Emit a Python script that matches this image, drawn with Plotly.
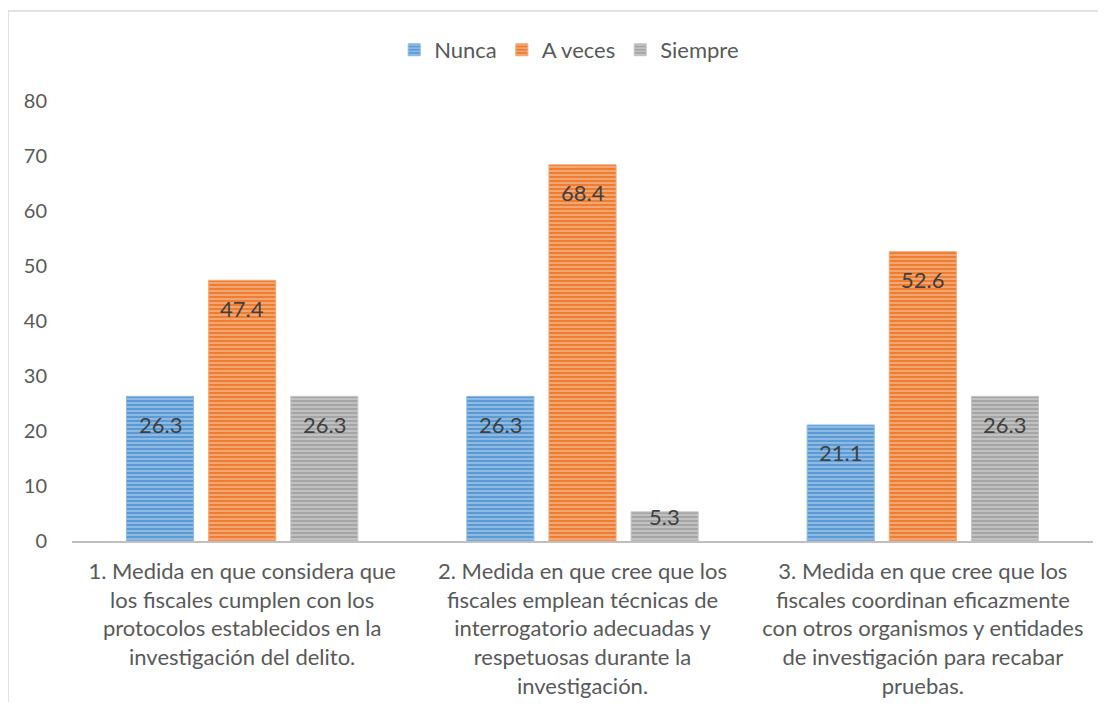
import plotly.graph_objects as go

categories = [
    "1. Medida en que considera que<br>los fiscales cumplen con los<br>protocolos establecidos en la<br>investigación del delito.",
    "2. Medida en que cree que los<br>fiscales emplean técnicas de<br>interrogatorio adecuadas y<br>respetuosas durante la<br>investigación.",
    "3. Medida en que cree que los<br>fiscales coordinan eficazmente<br>con otros organismos y entidades<br>de investigación para recabar<br>pruebas.",
]
series_names = ["Nunca", "A veces", "Siempre"]
nunca = [26.3, 26.3, 21.1]
a_veces = [47.4, 68.4, 52.6]
siempre = [26.3, 5.3, 26.3]
y_ticks = [0, 10, 20, 30, 40, 50, 60, 70, 80]

series_values = [nunca, a_veces, siempre]
colors = ["#5B9BD5", "#ED7D31", "#A5A5A5"]
line_colors = ["#8DB9E4", "#F4A877", "#C6C6C6"]

FONT = "Lato"
fig = go.Figure()
for name, vals, c, lc in zip(series_names, series_values, colors, line_colors):
    fig.add_trace(go.Bar(
        name=name, x=categories, y=vals,
        marker=dict(
            color=c,
            line=dict(color=lc, width=1),
            pattern=dict(shape="-", fgcolor="white", fgopacity=0.45, size=4, solidity=0.35, fillmode="overlay"),
        ),
        hoverinfo="skip",
    ))

# data labels (inside end)
shift_x = [-82, 0, 82]
for si, vals in enumerate(series_values):
    for ci, v in enumerate(vals):
        fig.add_annotation(
            x=categories[ci], y=v, text=f"{v:.1f}", showarrow=False,
            xshift=shift_x[si], yshift=(-28 if v > 10 else -5),
            yanchor="middle", xanchor="center",
            font=dict(family=FONT, size=22, color="#404040"),
        )

# outer chart border (left and top)
fig.add_shape(type="line", xref="paper", yref="paper", x0=-0.0627, x1=-0.0627, y0=1.2045, y1=-0.40,
              line=dict(color="#D9D9D9", width=1.5))
fig.add_shape(type="line", xref="paper", yref="paper", x0=-0.0627, x1=1.02, y0=1.2045, y1=1.2045,
              line=dict(color="#D9D9D9", width=1.5))

fig.update_layout(
    width=1090, height=694,
    margin=dict(l=64, r=5, t=93, b=161),
    paper_bgcolor="white", plot_bgcolor="white",
    barmode="group", bargap=0.276, bargroupgap=0.183,
    font=dict(family=FONT, color="#595959"),
    legend=dict(orientation="h", x=0.487, xanchor="center", y=1.116, yanchor="middle",
                font=dict(family=FONT, size=22, color="#595959"), traceorder="normal",
                itemwidth=30),
    showlegend=True,
)
fig.update_yaxes(range=[0, 80], tickvals=y_ticks, showgrid=False, zeroline=False, showline=False,
                 ticks="outside", ticklen=20, tickcolor="rgba(0,0,0,0)", automargin=False,
                 tickfont=dict(family=FONT, size=20, color="#595959"))
fig.update_xaxes(showline=True, linecolor="#BFBFBF", linewidth=1.5, showgrid=False,
                 ticks="outside", ticklen=10, tickcolor="rgba(0,0,0,0)", automargin=False,
                 tickfont=dict(family=FONT, size=22, color="#595959"), tickangle=0)

fig.write_html("out.html")
